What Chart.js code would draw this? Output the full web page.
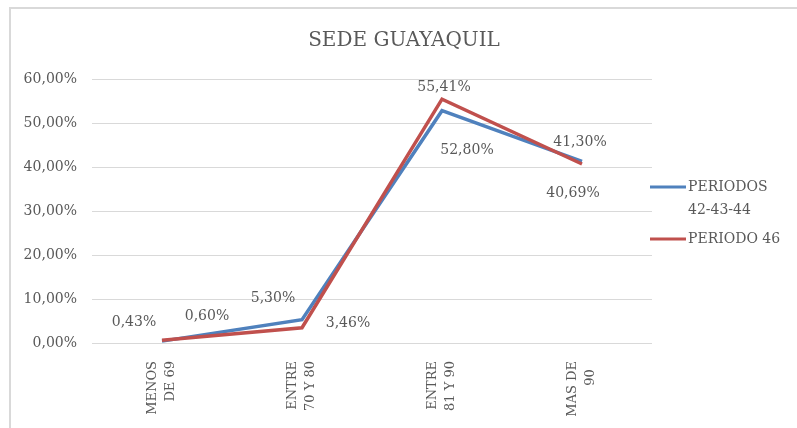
<!DOCTYPE html>
<html>
<head>
<meta charset="utf-8">
<script src="https://cdn.jsdelivr.net/npm/chart.js@4/dist/chart.umd.min.js"></script>
<style>
  html, body { margin: 0; padding: 0; background: #fff; }
  #wrap { position: relative; width: 797px; height: 428px; }
  #frame { position: absolute; left: 9px; top: 7px; width: 800px; height: 430px;
           border-left: 2px solid #d9d9d9; border-top: 2px solid #d9d9d9; }
  canvas { position: absolute; left: 0; top: 0; }
</style>
</head>
<body>
<div id="wrap">
  <div id="frame"></div>
  <canvas id="sedeChart" width="797" height="428"></canvas>
</div>
<script>
var categories = [["MENOS", "DE 69"], ["ENTRE", "70 Y 80"], ["ENTRE", "81 Y 90"], ["MAS DE", "90  "]];
var periodos424344 = [0.43, 5.30, 52.80, 41.30];
var periodo46 = [0.60, 3.46, 55.41, 40.69];
var yTicks = [0, 10, 20, 30, 40, 50, 60];

var FONT = "'DejaVu Serif', serif";
var GRAY = "#595959";

function pct(v) {
	return v.toFixed(2).replace('.', ',') + '%';
}

// label offsets from each point (dx, dy)
var labelOffsets = [
	[[-28, -19], [-29, -21], [25, 40], [-2, -19]],
	[[45, -24], [46, -4], [2, -12], [-9, 29]]
];

var extrasPlugin = {
	id: 'extras',
	afterDraw: function (chart) {
		var ctx = chart.ctx;
		ctx.save();
		// title
		ctx.fillStyle = GRAY;
		ctx.font = "20px " + FONT;
		ctx.textAlign = 'center';
		ctx.textBaseline = 'middle';
		ctx.fillText('SEDE GUAYAQUIL', 404, 41);

		// data labels
		ctx.font = "14px " + FONT;
		chart.data.datasets.forEach(function (ds, di) {
			var meta = chart.getDatasetMeta(di);
			meta.data.forEach(function (pt, i) {
				var off = labelOffsets[di][i];
				ctx.fillText(pct(ds.data[i]), pt.x + off[0], pt.y + off[1]);
			});
		});

		// legend
		ctx.textAlign = 'left';
		var items = [
			{ ds: chart.data.datasets[0], y: 187, lines: ['PERIODOS', '42-43-44'] },
			{ ds: chart.data.datasets[1], y: 239, lines: ['PERIODO 46'] }
		];
		items.forEach(function (it) {
			ctx.strokeStyle = it.ds.borderColor;
			ctx.lineWidth = 3;
			ctx.beginPath();
			ctx.moveTo(650, it.y);
			ctx.lineTo(686, it.y);
			ctx.stroke();
			it.lines.forEach(function (t, k) {
				ctx.fillText(t, 688, it.y + k * 23);
			});
		});
		ctx.restore();
	}
};

var ctx = document.getElementById('sedeChart').getContext('2d');
var sedeChart = new Chart(ctx, {
	type: 'line',
	data: {
		labels: categories,
		datasets: [{
			label: 'PERIODOS 42-43-44',
			data: periodos424344,
			borderColor: '#4F81BD',
			backgroundColor: '#4F81BD',
			borderWidth: 3.5,
			pointRadius: 0,
			tension: 0,
			order: 1
		}, {
			label: 'PERIODO 46',
			data: periodo46,
			borderColor: '#C0504D',
			backgroundColor: '#C0504D',
			borderWidth: 3.5,
			pointRadius: 0,
			tension: 0,
			order: 0
		}]
	},
	options: {
		responsive: false,
		animation: false,
		layout: {
			padding: { top: 79, right: 145, bottom: 0, left: 0 }
		},
		plugins: {
			legend: { display: false },
			title: { display: false },
			tooltip: { enabled: false }
		},
		scales: {
			x: {
				offset: true,
				grid: { display: false, drawTicks: false },
				border: { display: false },
				afterFit: function (scale) { scale.height = 85; },
				ticks: {
					color: GRAY,
					font: { size: 13, family: FONT, lineHeight: 1.35 },
					minRotation: 90,
					maxRotation: 90,
					padding: 18,
					labelOffset: -9,
					autoSkip: false
				}
			},
			y: {
				min: 0,
				max: 60,
				afterFit: function (scale) { scale.width = 92; },
				afterBuildTicks: function (scale) {
					scale.ticks = yTicks.map(function (v) { return { value: v }; });
				},
				grid: { color: '#d9d9d9', lineWidth: 1, drawTicks: false },
				border: { display: false },
				ticks: {
					color: GRAY,
					font: { size: 14, family: FONT },
					padding: 15,
					callback: function (v) { return pct(v); }
				}
			}
		}
	},
	plugins: [extrasPlugin]
});
</script>
</body>
</html>
